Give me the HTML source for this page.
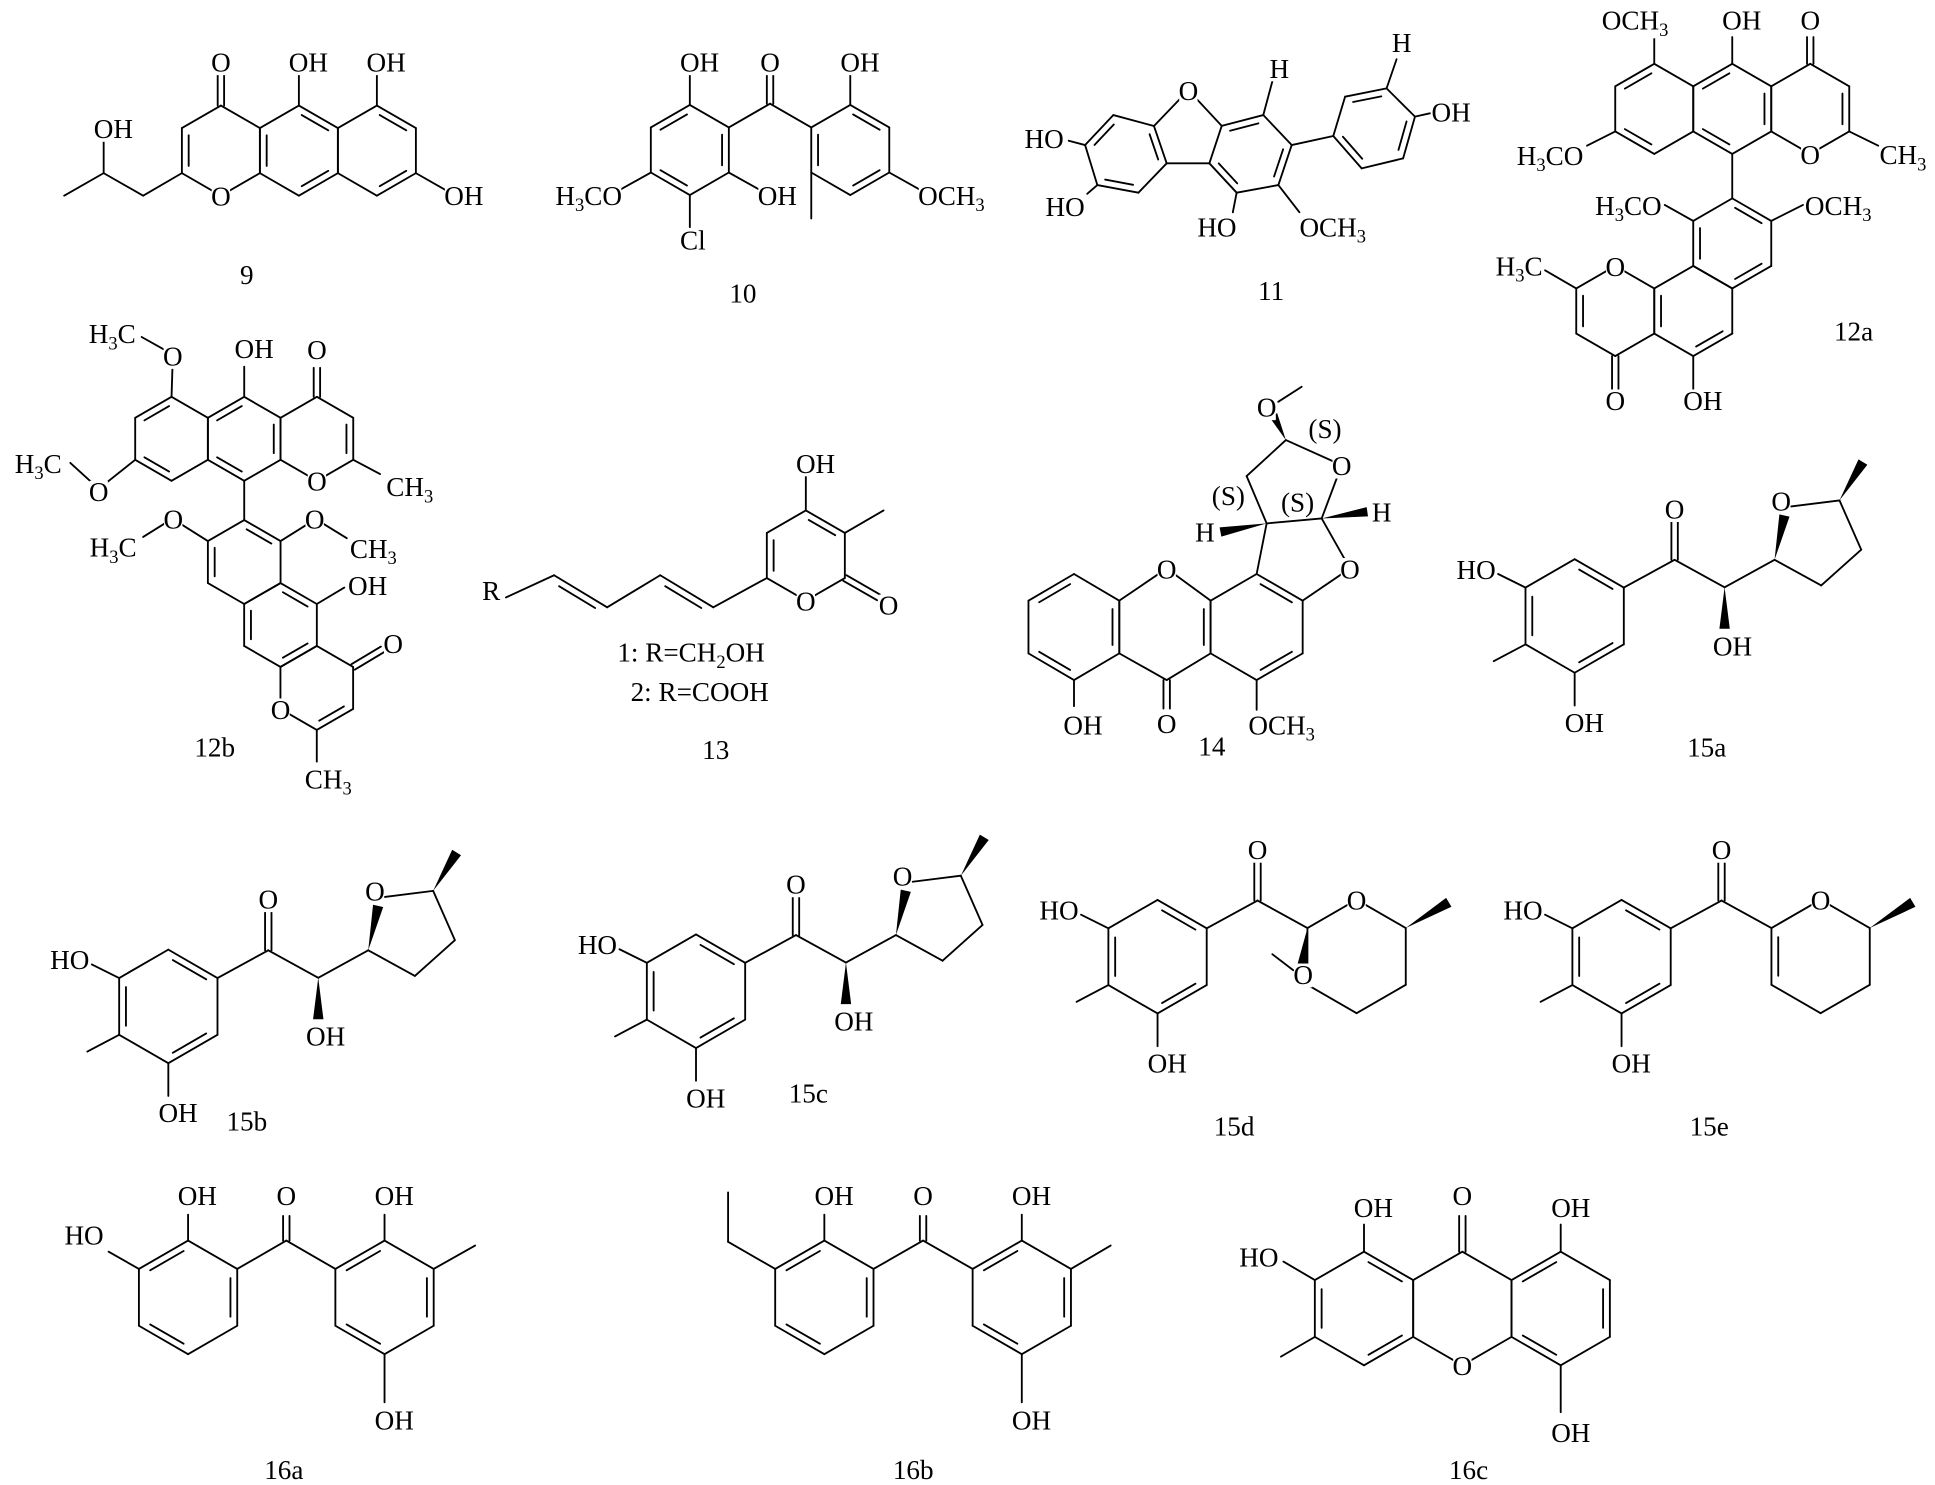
<!DOCTYPE html>
<html><head><meta charset="utf-8">
<style>
html,body{margin:0;padding:0;background:#fff;}
svg{display:block;}
#b line{stroke:#000;stroke-width:1.5;stroke-linecap:round;}
#b polygon{fill:#000;stroke:none;}
.t text{font-family:"Liberation Serif","DejaVu Serif",serif;font-size:22px;fill:#000;}
.t .m{text-anchor:middle;}
.t .e{text-anchor:end;}
</style></head>
<body>
<svg id="svg" xmlns="http://www.w3.org/2000/svg" width="1935" height="1485" viewBox="0 0 1568 1203" preserveAspectRatio="none">
<rect width="1568" height="1203" fill="#fff"/>
<g id="b"></g>
<g id="bg"></g>
<g class="t" id="tg">
<!-- 9 -->
<text x="179" y="58" class="m">O</text>
<text x="234" y="58">OH</text>
<text x="297" y="58">OH</text>
<text x="360" y="166">OH</text>
<text x="179" y="166.5" class="m">O</text>
<text x="76" y="112">OH</text>
<text x="200" y="230" class="m">9</text>
<!-- 10 -->
<text x="624" y="58" class="m">O</text>
<text x="551" y="58">OH</text>
<text x="681" y="58">OH</text>
<text x="614" y="166">OH</text>
<text x="551" y="202">Cl</text>
<text x="504" y="166" class="e">H<tspan dy="5" font-size="15">3</tspan><tspan dy="-5">CO</tspan></text>
<text x="744" y="166">OCH<tspan dy="5" font-size="15">3</tspan></text>
<text x="602" y="245" class="m">10</text>
<!-- 11 -->
<text x="862" y="120" class="e">HO</text>
<text x="879" y="175" class="e">HO</text>
<text x="1036.7" y="63" class="m">H</text>
<text x="1002" y="191.6" class="e">HO</text>
<text x="1053" y="191.6">OCH<tspan dy="5" font-size="15">3</tspan></text>
<text x="963" y="81" class="m">O</text>
<text x="1135.8" y="42" class="m">H</text>
<text x="1160" y="98.5">OH</text>
<text x="1030" y="243" class="m">11</text>
<!-- 12a -->
<text x="1298" y="24">OCH<tspan dy="5" font-size="15">3</tspan></text>
<text x="1395.5" y="24">OH</text>
<text x="1467" y="24" class="m">O</text>
<text x="1283" y="133.6" class="e">H<tspan dy="5" font-size="15">3</tspan><tspan dy="-5">CO</tspan></text>
<text x="1523" y="133">CH<tspan dy="5" font-size="15">3</tspan></text>
<text x="1466.9" y="132.7" class="m">O</text>
<text x="1346.5" y="174" class="e">H<tspan dy="5" font-size="15">3</tspan><tspan dy="-5">CO</tspan></text>
<text x="1462.6" y="174">OCH<tspan dy="5" font-size="15">3</tspan></text>
<text x="1308.9" y="223.45" class="m">O</text>
<text x="1250" y="223" class="e">H<tspan dy="5" font-size="15">3</tspan><tspan dy="-5">C</tspan></text>
<text x="1308.9" y="332" class="m">O</text>
<text x="1364" y="332">OH</text>
<text x="1502" y="276" class="m">12a</text>
<!-- 12b -->
<text x="110" y="278" class="e">H<tspan dy="5" font-size="15">3</tspan><tspan dy="-5">C</tspan></text>
<text x="140" y="296" class="m">O</text>
<text x="190" y="290">OH</text>
<text x="256.8" y="291" class="m">O</text>
<text x="50" y="383" class="e">H<tspan dy="5" font-size="15">3</tspan><tspan dy="-5">C</tspan></text>
<text x="80" y="406" class="m">O</text>
<text x="313" y="402">CH<tspan dy="5" font-size="15">3</tspan></text>
<text x="256.8" y="397.5" class="m">O</text>
<text x="140.4" y="428" class="m">O</text>
<text x="110.7" y="451" class="e">H<tspan dy="5" font-size="15">3</tspan><tspan dy="-5">C</tspan></text>
<text x="255" y="428" class="m">O</text>
<text x="283.5" y="452">CH<tspan dy="5" font-size="15">3</tspan></text>
<text x="282" y="482">OH</text>
<text x="318.6" y="529" class="m">O</text>
<text x="227.3" y="582.3" class="m">O</text>
<text x="247" y="638.6">CH<tspan dy="5" font-size="15">3</tspan></text>
<text x="174" y="613" class="m">12b</text>
<!-- 13 -->
<text x="645" y="383">OH</text>
<text x="653" y="494.5" class="m">O</text>
<text x="720" y="498" class="m">O</text>
<text x="398" y="486" class="m">R</text>
<text x="560" y="536" class="m">1: R=CH<tspan dy="5" font-size="15">2</tspan><tspan dy="-5">OH</tspan></text>
<text x="567" y="568" class="m">2: R=COOH</text>
<text x="580" y="615" class="m">13</text>
<!-- 14 -->
<text x="945.4" y="468.5" class="m">O</text>
<text x="861.7" y="595">OH</text>
<text x="945.4" y="594" class="m">O</text>
<text x="1011.6" y="595">OCH<tspan dy="5" font-size="15">3</tspan></text>
<text x="1093.9" y="468.5" class="m">O</text>
<text x="1087.2" y="384.8" class="m">O</text>
<text x="1026.4" y="337.5" class="m">O</text>
<text x="976.4" y="438.8" class="m">H</text>
<text x="1119.6" y="422.6" class="m">H</text>
<text x="1073.7" y="355" class="m">(S)</text>
<text x="995.4" y="409" class="m">(S)</text>
<text x="1051.5" y="414.5" class="m">(S)</text>
<text x="982" y="612" class="m">14</text>
<!-- 15a -->
<text x="1212" y="469" class="e">HO</text>
<text x="1268" y="593">OH</text>
<text x="1357" y="420" class="m">O</text>
<text x="1388" y="531">OH</text>
<text x="1443.4" y="413.4" class="m">O</text>
<text x="1383" y="613" class="m">15a</text>
<!-- 15b -->
<text x="72.4" y="785" class="e">HO</text>
<text x="128.4" y="909">OH</text>
<text x="217.4" y="736" class="m">O</text>
<text x="248" y="847">OH</text>
<text x="303.8" y="729.7" class="m">O</text>
<text x="200" y="916" class="m">15b</text>
<!-- 15c -->
<text x="500" y="773" class="e">HO</text>
<text x="556" y="897">OH</text>
<text x="645" y="724" class="m">O</text>
<text x="676" y="835">OH</text>
<text x="731.4" y="717.4" class="m">O</text>
<text x="655" y="893" class="m">15c</text>
<!-- 15d -->
<text x="874" y="745" class="e">HO</text>
<text x="930" y="869">OH</text>
<text x="1019" y="696" class="m">O</text>
<text x="1099.3" y="736.8" class="m">O</text>
<text x="1056" y="797" class="m">O</text>
<text x="1000" y="920" class="m">15d</text>
<!-- 15e -->
<text x="1250" y="745" class="e">HO</text>
<text x="1306" y="869">OH</text>
<text x="1395" y="696" class="m">O</text>
<text x="1475.3" y="736.8" class="m">O</text>
<text x="1385" y="920" class="m">15e</text>
<!-- 16a -->
<text x="144" y="976">OH</text>
<text x="84" y="1008" class="e">HO</text>
<text x="232" y="976" class="m">O</text>
<text x="303.6" y="976">OH</text>
<text x="303.6" y="1158">OH</text>
<text x="230" y="1198" class="m">16a</text>
<!-- 16b -->
<text x="660" y="976">OH</text>
<text x="748" y="976" class="m">O</text>
<text x="820" y="976">OH</text>
<text x="820" y="1158">OH</text>
<text x="740" y="1198" class="m">16b</text>
<!-- 16c -->
<text x="1097" y="986">OH</text>
<text x="1036" y="1026" class="e">HO</text>
<text x="1185" y="976" class="m">O</text>
<text x="1257" y="986">OH</text>
<text x="1185" y="1114" class="m">O</text>
<text x="1257" y="1168">OH</text>
<text x="1190" y="1198" class="m">16c</text>
</g>
</svg>
<script>
(function(){
const NS='http://www.w3.org/2000/svg';
const B=document.getElementById('b');
let P=B;
function el(t,a){const e=document.createElementNS(NS,t);for(const k in a)e.setAttribute(k,a[k]);P.appendChild(e);return e;}
function L(x1,y1,x2,y2){el('line',{x1:x1,y1:y1,x2:x2,y2:y2});}
function D(x1,y1,x2,y2){const dx=x2-x1,dy=y2-y1,l=Math.hypot(dx,dy),nx=-dy/l*2.6,ny=dx/l*2.6;L(x1+nx,y1+ny,x2+nx,y2+ny);L(x1-nx,y1-ny,x2-nx,y2-ny);}
function H(cx,cy,r){const v=[];for(let k=0;k<6;k++){const a=(-90+60*k)*Math.PI/180;v.push([cx+r*Math.cos(a),cy+r*Math.sin(a)]);}return v;}
function inner(a,b,c){const dx=b[0]-a[0],dy=b[1]-a[1],l=Math.hypot(dx,dy);let nx=-dy/l,ny=dx/l;const mx=(a[0]+b[0])/2,my=(a[1]+b[1])/2;if(nx*(c[0]-mx)+ny*(c[1]-my)<0){nx=-nx;ny=-ny;}const o=5.5,t=0.16;L(a[0]+dx*t+nx*o,a[1]+dy*t+ny*o,a[0]+dx*(1-t)+nx*o,a[1]+dy*(1-t)+ny*o);}
function R(v,d){const n=v.length;let cx=0,cy=0;v.forEach(p=>{cx+=p[0];cy+=p[1];});cx/=n;cy/=n;for(let i=0;i<n;i++){const a=v[i],b=v[(i+1)%n];L(a[0],a[1],b[0],b[1]);}(d||[]).forEach(i=>inner(v[i],v[(i+1)%n],[cx,cy]));}
function W(x1,y1,x2,y2,w){w=w||3.8;const dx=x2-x1,dy=y2-y1,l=Math.hypot(dx,dy),nx=-dy/l*w,ny=dx/l*w;el('polygon',{points:x1+','+y1+' '+(x2+nx)+','+(y2+ny)+' '+(x2-nx)+','+(y2-ny)});}
function Lp(a,x,y){L(a[0],a[1],x,y);}

/* 9 */
let a=H(179,122,36.5),b=H(242.2,122,36.5),c=H(305.4,122,36.5);
R(a,[4]);R(b,[0,2,4]);R(c,[0,2]);
D(179,85.5,179,58);L(242.2,85.5,242.2,58);L(305.4,85.5,305.4,58);L(337,140.25,362,154.5);
L(147.4,140.25,116,158.5);L(116,158.5,84,140.25);L(84,140.25,52,158.5);L(84,140.25,84,112);

/* 10 */
a=H(559,121.5,36.5);b=H(689,121.5,36.5);
R(a,[5,1,3]);R(b,[0,2,4]);
L(590.6,103.25,624,84);L(624,84,657.4,103.25);D(624,84,624,58);
L(559,85,559,58);L(590.6,139.75,616,154);L(559,158,559,184);L(527.4,139.75,502,154);
L(689,85,689,58);L(720.6,139.75,746,154);L(657.4,139.75,657.4,177);

/* 11 */
R([[935.1,102.1],[902.2,93.2],[879.3,117.5],[889.2,149.9],[922.5,156.1],[945.4,132.3]],[1,3,5]);
R([[990,102],[1023.7,93.2],[1046.7,117.5],[1035.9,149.9],[1002.1,156.1],[980,132.3]],[0,2,4]);
L(963,73,935.1,102.1);L(963,73,990,102);L(945.4,132.3,980,132.3);
L(879.3,117.5,866,114);L(889.2,149.9,881,157);L(1023.7,93.2,1031,66);
L(1002.1,156.1,999,172);L(1035.9,149.9,1053,172);L(1046.7,117.5,1080.4,110.2);
R([[1080.4,110.2],[1090,78.3],[1123.6,71.6],[1146.6,94.5],[1137,128.3],[1103.4,136.4]],[1,3,5]);
L(1123.6,71.6,1131.7,48);L(1146.6,94.5,1158.7,91.8);

/* 12a */
a=H(1340.5,88.2,36.5);b=H(1403.7,88.2,36.5);c=H(1466.9,88.2,36.5);
R(a,[5,3]);R(b,[5,1,3]);R(c,[1]);
L(1340.5,51.7,1340.5,30);L(1403.7,51.7,1403.7,30);D(1466.9,51.7,1466.9,30);
L(1308.9,106.45,1286,118);L(1498.5,106.45,1522,118);
L(1403.7,124.7,1403.7,160.7);
let A=H(1403.7,197.2,36.5),Bq=H(1372.1,251.95,36.5),Q=H(1308.9,251.95,36.5);
R(A,[0,2,4]);R(Bq,[2,4]);R(Q,[4]);
Lp(A[5],1349,166);Lp(A[1],1461,166);
Lp(Q[5],1252,219);D(1308.9,288.45,1308.9,315);L(1372.1,288.45,1372.1,315);

/* 12b */
a=H(139,355.5,34);b=H(197.9,355.5,34);c=H(256.8,355.5,34);
R(a,[5,3]);R(b,[5,1,3]);R(c,[1]);
L(139,321.5,139.8,296);L(133.7,283.6,114.8,273);
L(197.9,321.5,197.9,297);D(256.8,321.5,256.8,298);
Lp(a[4],80,396);L(80,396,57,375);
Lp(c[2],308,384);
L(197.9,389.5,197.9,421.3);
A=H(197.9,455.3,34);R(A,[0,4]);
Lp(A[5],141,421);L(140,420,116,435);
Lp(A[1],255,421);L(255,420,281,436);
Bq=H(227.3,506.3,34);R(Bq,[0,2,4]);
Lp(Bq[1],279,476);
Q=H(256.7,557.3,34);R(Q,[2]);
D(Q[1][0],Q[1][1],310,526);L(256.7,591.3,256.7,617);

/* 13 */
a=H(653,450,36.5);R(a,[0,4]);
L(653,413.5,653,385);L(684.6,431.75,716,413.5);D(684.6,468.25,712,484);
L(621.4,468.25,578,492);L(578,492,535,466);L(535,466,492,492);L(492,492,449,466);L(449,466,410,484);
inner([535,466],[578,492],[540,520]);inner([449,466],[492,492],[454,520]);

/* 14 */
R([[870.3,465],[907,486.6],[907,529.3],[870.3,550.9],[833.4,529.3],[833.4,486.6]],[1,3,5]);
R([[945.4,460.5],[981,486.6],[981,529.3],[945.4,550.9],[907,529.3],[907,486.6]],[1]);
R([[1018.3,465],[1055.6,486.6],[1055.6,529.3],[1018.3,550.9],[981,529.3],[981,486.6]],[0,2]);
L(870.3,550.9,870.3,572);D(945.4,550.9,945.4,574);L(1018.3,550.9,1018.3,575);
L(1018.3,465,1026.4,424);L(1026.4,424,1071,420);L(1071,420,1093.9,460.5);L(1093.9,460.5,1055.6,486.6);
L(1026.4,424,1010.2,385.7);L(1010.2,385.7,1042,356.5);L(1042,356.5,1087.2,376.8);L(1087.2,376.8,1071,420);
W(1042,356.5,1031.8,336.3,3.5);L(1035.8,325.5,1054.8,313.3);
W(1026.4,424,989,431,3.8);W(1071,420,1108,414.6,3.8);

/* 15 series */
function f15(cx,cy,t){
  const g=document.createElementNS(NS,'g');g.setAttribute('transform','translate('+cx+','+cy+')');B.appendChild(g);P=g;
  const v=H(0,0,46);R(v,[0,2,4]);
  Lp(v[5],-62,-34);Lp(v[4],-65.6,36.6);Lp(v[3],0,72.5);Lp(v[1],81,-45.5);D(81,-45.5,81,-76);
  L(81,-45.5,121.5,-23.2);
  if(t==='a'){
    W(121.5,-23.2,121.5,10.4,4.2);L(121.5,-23.2,162,-45.5);W(162,-45.5,170,-81.4,4.2);
    L(175.5,-88.7,214.6,-93.6);W(214.6,-93.6,233.6,-124.7,4.2);
    L(214.6,-93.6,232.2,-53.7);L(232.2,-53.7,199.8,-24.7);L(199.8,-24.7,162,-45.5);
  } else {
    const p=H(161.3,-0.2,46);R(p,t==='e'?[4]:[]);
    W(p[1][0],p[1][1],236,-44,4.2);
    if(t==='d'){W(121.5,-23.2,117,8,4);L(110,11,93,-2);}
  }
  P=B;
}
f15(1276,499,'a');f15(136.4,815.3,'a');f15(564,803,'a');f15(938,775,'d');f15(1314,775,'e');

/* 16a */
a=H(152.4,1051,46);b=H(311.6,1051,46);R(a,[1,3,5]);R(b,[1,3,5]);
L(192.2,1028,232,1005);L(232,1005,271.8,1028);D(232,1005,232,985);
L(152.4,1005,152.4,984);L(112.6,1028,88,1014);L(311.6,1005,311.6,984);L(351.4,1028,385,1009);L(311.6,1097,311.6,1136);

/* 16b */
a=H(668,1051,46);b=H(828,1051,46);R(a,[1,3,5]);R(b,[1,3,5]);
L(707.8,1028,748,1005);L(748,1005,788.2,1028);D(748,1005,748,985);
L(668,1005,668,984);L(628.2,1028,590,1006);L(590,1006,590,966);
L(828,1005,828,984);L(867.8,1028,900,1009);L(828,1097,828,1136);

/* 16c */
a=H(1105.3,1060,46);b=H(1185,1060,46);c=H(1264.7,1060,46);
R(a,[0,2,4]);R(b,[]);R(c,[1,3,5]);
D(1185,1014,1185,985);L(1105.3,1014,1105.3,992);L(1065.5,1037,1040,1022);L(1065.5,1083,1038,1099);
L(1264.7,1014,1264.7,992);L(1264.7,1106,1264.7,1144);

/* white backgrounds behind labels */
const bg=document.getElementById('bg');
document.querySelectorAll('#tg text').forEach(t=>{
  try{const bb=t.getBBox();const r=document.createElementNS(NS,'rect');
  r.setAttribute('x',bb.x+0.5);r.setAttribute('y',bb.y+3);r.setAttribute('width',Math.max(0,bb.width-1));r.setAttribute('height',Math.max(0,bb.height-5));
  r.setAttribute('fill','#fff');bg.appendChild(r);}catch(e){}
});
})();
</script>
</body></html>
